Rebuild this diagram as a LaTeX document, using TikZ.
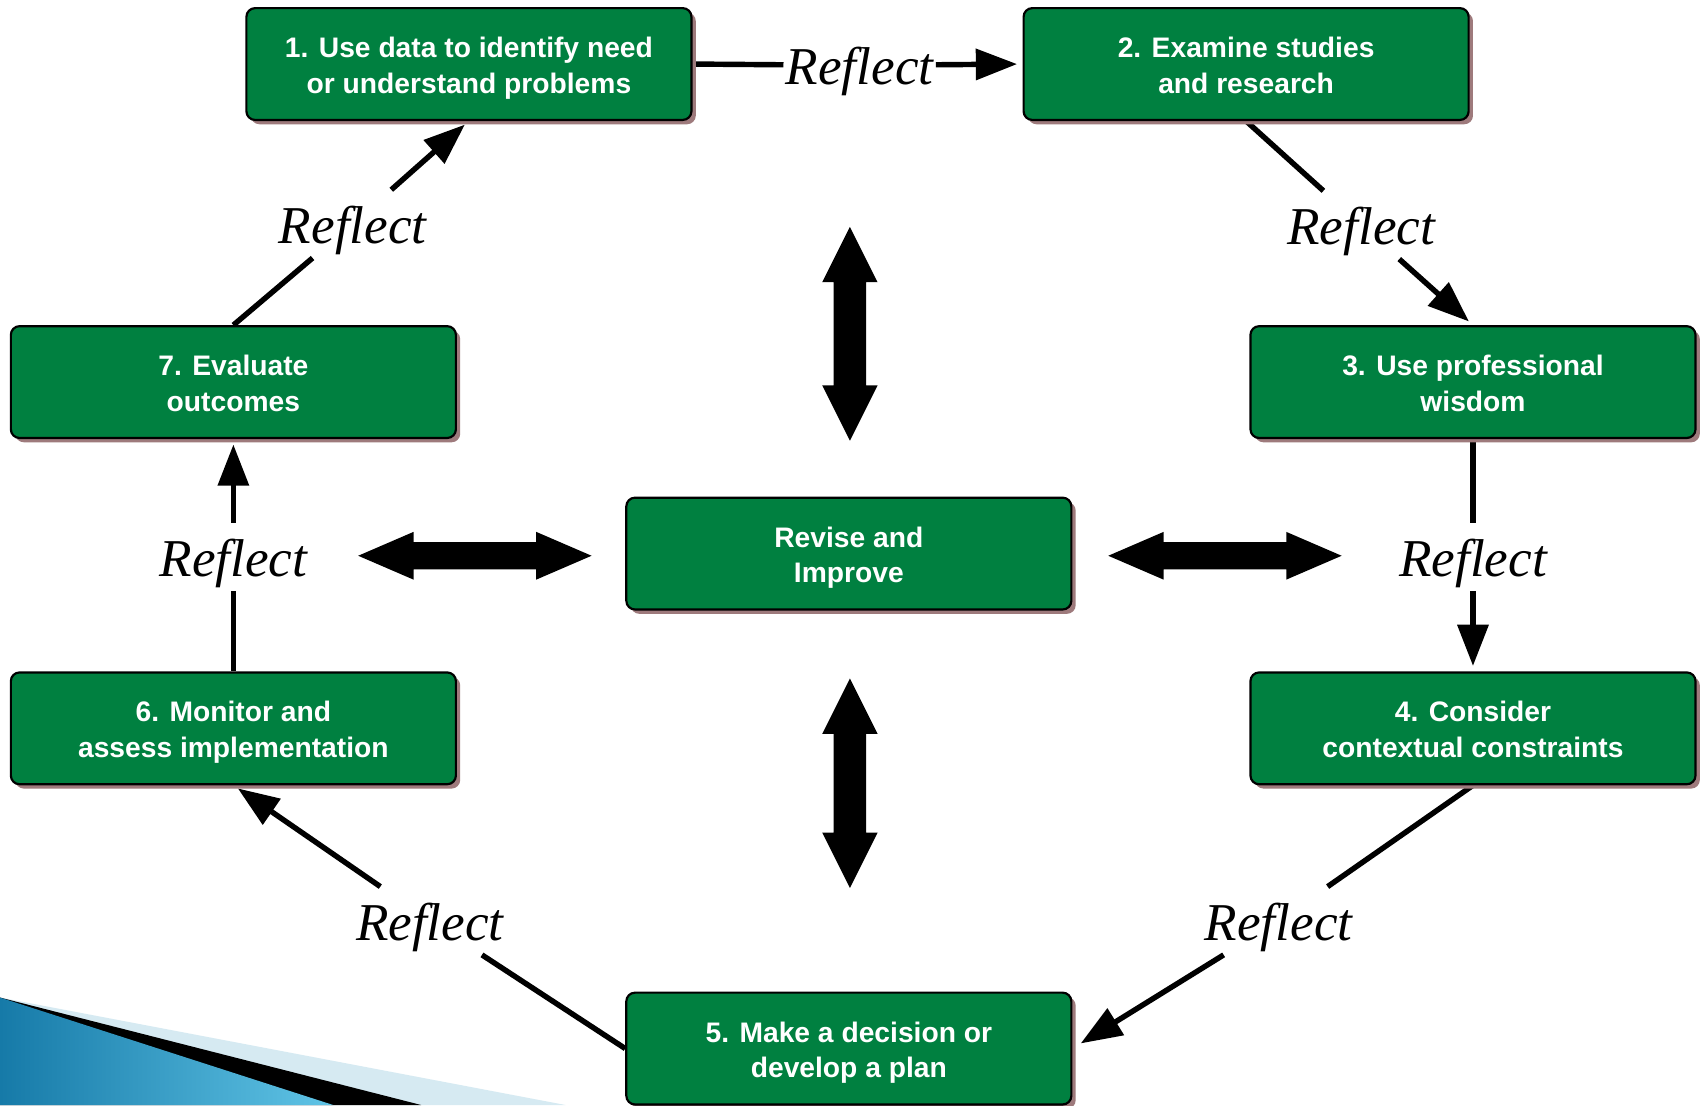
\documentclass[tikz,border=0pt]{standalone}
\usepackage{fontspec}
\setmainfont{Liberation Serif}
\newfontfamily\boxfont{Liberation Sans}
\usetikzlibrary{arrows.meta,shadows}
\pgfdeclarelayer{bg}
\pgfsetlayers{bg,main}
\definecolor{stagegreen}{RGB}{0,128,64}
\definecolor{stageshadow}{RGB}{158,122,124}
\definecolor{cornerdark}{RGB}{22,122,168}
\definecolor{cornerlight}{RGB}{96,196,230}
\definecolor{cornerpale}{RGB}{214,234,242}
\newcommand{\topstrut}{\rule{0pt}{27pt}}
\newcommand{\botstrut}{\rule[-6pt]{0pt}{6pt}}
\tikzstyle{stage}=[fill=stagegreen, draw=black, line width=2pt, rounded corners=8pt, minimum width=410pt, minimum height=103pt, align=center, text=white, font=\boxfont\bfseries\fontsize{26}{33}\selectfont, drop shadow={shadow xshift=4pt, shadow yshift=-4pt, fill=stageshadow, opacity=1}]
\tikzstyle{reflect}=[font=\itshape\fontsize{49}{49}\selectfont, anchor=base, inner xsep=2pt, inner ysep=2pt, text height=47pt, text depth=11.5pt]
\tikzstyle{wire}=[-, line width=5pt]
\tikzstyle{link}=[wire, ->, shorten >=5pt]

\begin{document}
\begin{tikzpicture}[x=1pt, y=-1pt, >={Triangle[length=38pt,width=28pt]}]
    \node [stage] (s1) at (432, 59) {\topstrut 1. Use data to identify need\\or understand problems\botstrut};
    \node [stage] (s2) at (1148, 59) {\topstrut 2. Examine studies\\and research\botstrut};
    \node [stage] (s3) at (1357, 352) {\topstrut 3. Use professional\\wisdom\botstrut};
    \node [stage] (s4) at (1357, 671) {\topstrut 4. Consider\\contextual constraints\botstrut};
    \node [stage] (s5) at (782, 966) {\topstrut 5. Make a decision or\\develop a plan\botstrut};
    \node [stage] (s6) at (215, 671) {\topstrut 6. Monitor and\\assess implementation\botstrut};
    \node [stage] (s7) at (215, 352) {\topstrut 7. Evaluate\\outcomes\botstrut};
    \node [stage] (rev) at (782, 510) {\topstrut Revise and\\Improve\botstrut};

    \node [reflect] (r12) at (792, 78) {Reflect};
    \node [reflect] (r23) at (1254, 225) {Reflect};
    \node [reflect] (r34) at (1357, 531) {Reflect};
    \node [reflect] (r45) at (1178, 866) {Reflect};
    \node [reflect] (r56) at (396, 866) {Reflect};
    \node [reflect] (r67) at (215, 531) {Reflect};
    \node [reflect] (r71) at (325, 224) {Reflect};

    % double block arrows round the centre
    \fill (783,209) -- (808.5,260) -- (798,260) -- (798,355) -- (808.5,355) -- (783,406) -- (757.5,355) -- (768,355) -- (768,260) -- (757.5,260) -- cycle;
    \fill (783,625) -- (808.5,676) -- (798,676) -- (798,767) -- (808.5,767) -- (783,818) -- (757.5,767) -- (768,767) -- (768,676) -- (757.5,676) -- cycle;
    \fill (330,512) -- (381,490) -- (381,499.5) -- (494,499.5) -- (494,490) -- (545,512) -- (494,534) -- (494,524.5) -- (381,524.5) -- (381,534) -- cycle;
    \fill (1021,512) -- (1072,490) -- (1072,499.5) -- (1185,499.5) -- (1185,490) -- (1236,512) -- (1185,534) -- (1185,524.5) -- (1072,524.5) -- (1072,534) -- cycle;

    \begin{pgfonlayer}{bg}
        \path [use as bounding box, fill=white] (0,0) rectangle (1568,1018);
        \fill [cornerpale] (0,919) -- (521,1018) -- (0,1018) -- cycle;
        \fill [black] (0,919) -- (388,1018) -- (0,1018) -- cycle;
        \shade [left color=cornerdark, right color=cornerlight] (0,919) -- (307,1018) -- (0,1018) -- cycle;

        \draw [wire] (s1.east) -- (r12);
        \draw [link] (r12) -- (s2.west);
        \draw [wire] (s2.south) -- (r23);
        \draw [link] (r23) -- (s3.north);
        \draw [wire] (s3.south) -- (r34);
        \draw [link] (r34) -- (s4.north);
        \draw [wire] (s4.south) -- (r45);
        \draw [link, shorten >=9pt] (r45) -- (s5.east);
        \draw [wire] (s5.west) -- (r56);
        \draw [link] (r56) -- (s6.south);
        \draw [wire] (s6.north) -- (r67);
        \draw [link] (r67) -- (s7.south);
        \draw [wire] (s7.north) -- (r71);
        \draw [link] (r71) -- (s1.south);
    \end{pgfonlayer}
\end{tikzpicture}
\end{document}
